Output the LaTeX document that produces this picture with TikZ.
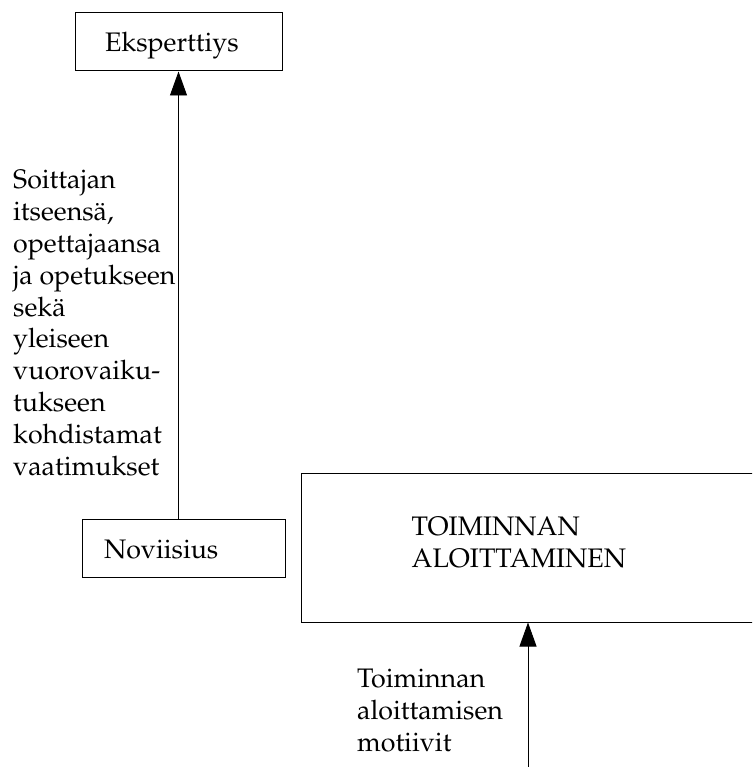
\documentclass[tikz,border=0pt]{standalone}
\usepackage[T1]{fontenc}
\usepackage{mathpazo}
\usetikzlibrary{arrows.meta,calc}
\begin{document}
\begin{tikzpicture}[x=1pt,y=-1pt,
  every node/.style={font=\fontsize{26.8}{31.8}\selectfont},
  box/.style={draw, line width=1pt, inner ysep=0pt, minimum height=58pt, align=left,
    text height=21pt, text depth=1pt},
  lbl/.style={inner sep=0pt, align=left, anchor=base west},
  arr/.style={line width=0.9pt, -{Triangle[length=24pt,width=17pt]}}]
\useasboundingbox (0,0) rectangle (752,767);
\clip (0,0) rectangle (752,767);
% boxes
\node[box, inner xsep=30pt, text width=147pt] (eks) at (178.5,42) {Eksperttiys};
\node[box, inner xsep=22pt, text width=159pt] (nov) at (183.5,548) {Noviisius};
\node[draw, line width=1pt, minimum width=499pt, minimum height=149pt, inner sep=0pt] (act) at (550.5,547.5) {};
\node[lbl] (acttext) at ($(act.north west)+(111,95)$) {TOIMINNAN\\ALOITTAMINEN};
% labels (anchored at the baseline of their last line)
\node[lbl] (lab1) at (13,475) {Soittajan\\itseensä,\\opettajaansa\\ja opetukseen\\sekä\\yleiseen\\vuorovaiku-\\tukseen\\kohdistamat\\vaatimukset};
\node[lbl] (lab2) at (357,751) {Toiminnan\\aloittamisen\\motiivit};
% connectors
\coordinate (bot) at (528,767);
\draw[arr] (nov.north -| eks.south) -- (eks.south);
\draw[arr] (bot) -- (act.south -| bot);
\end{tikzpicture}
\end{document}
